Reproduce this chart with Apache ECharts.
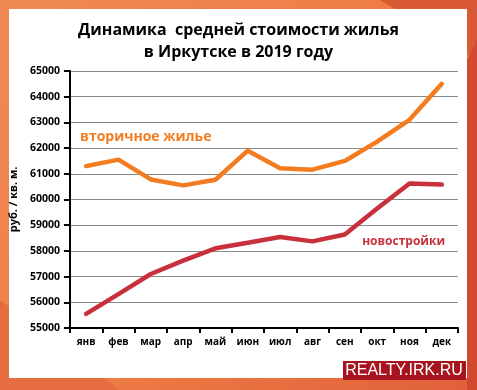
<!DOCTYPE html>
<html><head><meta charset="utf-8">
<script src="https://cdn.jsdelivr.net/npm/echarts@6/dist/echarts.min.js"></script>
<style>html,body{margin:0;padding:0;}#c{width:477px;height:390px;}</style>
</head><body><div id="c"></div>
<script>
var categories = ['янв','фев','мар','апр','май','июн','июл','авг','сен','окт','ноя','дек'];
var secondary = [61300, 61550, 60780, 60550, 60770, 61900, 61220, 61160, 61500, 62250, 63100, 64500];
var newBuild = [55550, 56320, 57100, 57620, 58100, 58320, 58540, 58370, 58640, 59650, 60620, 60580];
var yTicks = [55000, 65000, 1000];

var chart = echarts.init(document.getElementById('c'));
var F = '"Open Sans", "Noto Sans", sans-serif';
chart.setOption({
  animation: false,
  backgroundColor: {type:'linear', x:0, y:0, x2:1, y2:1, colorStops:[
    {offset:0, color:'#f08a55'},{offset:0.5, color:'#ee7d45'},{offset:1, color:'#e0603a'}]},
  graphic: [
    {type:'polygon', silent:true, shape:{points:[[200,0],[477,0],[477,60],[380,0]]}, style:{fill:'#d95a35'}},
    {type:'polygon', silent:true, shape:{points:[[0,300],[0,390],[120,390]]}, style:{fill:'#e66d40'}},
    {type:'polygon', silent:true, shape:{points:[[467,60],[477,40],[477,390],[467,390]]}, style:{fill:'#d24a2e'}},
    {type:'rect', silent:true, shape:{x:9, y:9, width:458, height:369}, style:{fill:'#ffffff'}},
    {type:'text', left:'center', top:19, style:{text:'Динамика  средней стоимости жилья\nв Иркутске в 2019 году', font:'bold 16px '+F, fill:'#000', textAlign:'center', lineHeight:22}},
    {type:'rect', silent:true, shape:{x:343, y:361, width:123, height:19}, style:{fill:'#a8141e'}},
    {type:'text', x:404, y:371, style:{text:'REALTY.IRK.RU', font:'16px "Liberation Sans", Arial, sans-serif', fill:'#fff', textAlign:'center', textVerticalAlign:'middle'}}
  ],
  grid: {left:69, right:19, top:71, bottom:62, containLabel:false},
  xAxis: {type:'category', data:categories, boundaryGap:true,
    axisLine:{lineStyle:{color:'#000', width:2}},
    axisTick:{show:true, length:5, lineStyle:{color:'#000', width:2}},
    axisLabel:{color:'#000', fontFamily:F, fontWeight:'bold', fontSize:10, margin:9}},
  yAxis: {type:'value', min:yTicks[0], max:yTicks[1], interval:yTicks[2],
    name:'руб. / кв. м.', nameLocation:'middle', nameGap:48, nameRotate:90,
    nameTextStyle:{color:'#000', fontFamily:F, fontWeight:'bold', fontSize:11},
    axisLine:{show:true, lineStyle:{color:'#000', width:2}},
    axisTick:{show:true, inside:false, length:6, lineStyle:{color:'#000', width:2}},
    axisLabel:{color:'#000', fontFamily:F, fontWeight:'bold', fontSize:10.5, margin:10, formatter:function(v){return String(v);}},
    splitLine:{lineStyle:{color:'#8a8a8a', width:1}}},
  series: [
    {type:'line', name:'вторичное жилье', data:secondary, symbol:'none', lineStyle:{color:'#f47c20', width:4.5, cap:'round', join:'round'},
     markPoint:{symbol:'circle', symbolSize:0, data:[{coord:[0,62450], label:{show:true, position:'right', formatter:'вторичное жилье', color:'#f47c20', fontFamily:F, fontWeight:'bold', fontSize:14, offset:[-11,0]}}]}},
    {type:'line', name:'новостройки', data:newBuild, symbol:'none', lineStyle:{color:'#c8313b', width:4.5, cap:'round', join:'round'},
     markPoint:{symbol:'circle', symbolSize:0, data:[{coord:[9,58360], label:{show:true, position:'right', formatter:'новостройки', color:'#c8313b', fontFamily:F, fontWeight:'bold', fontSize:12, offset:[-20,0]}}]}}
  ]
});
</script></body></html>
